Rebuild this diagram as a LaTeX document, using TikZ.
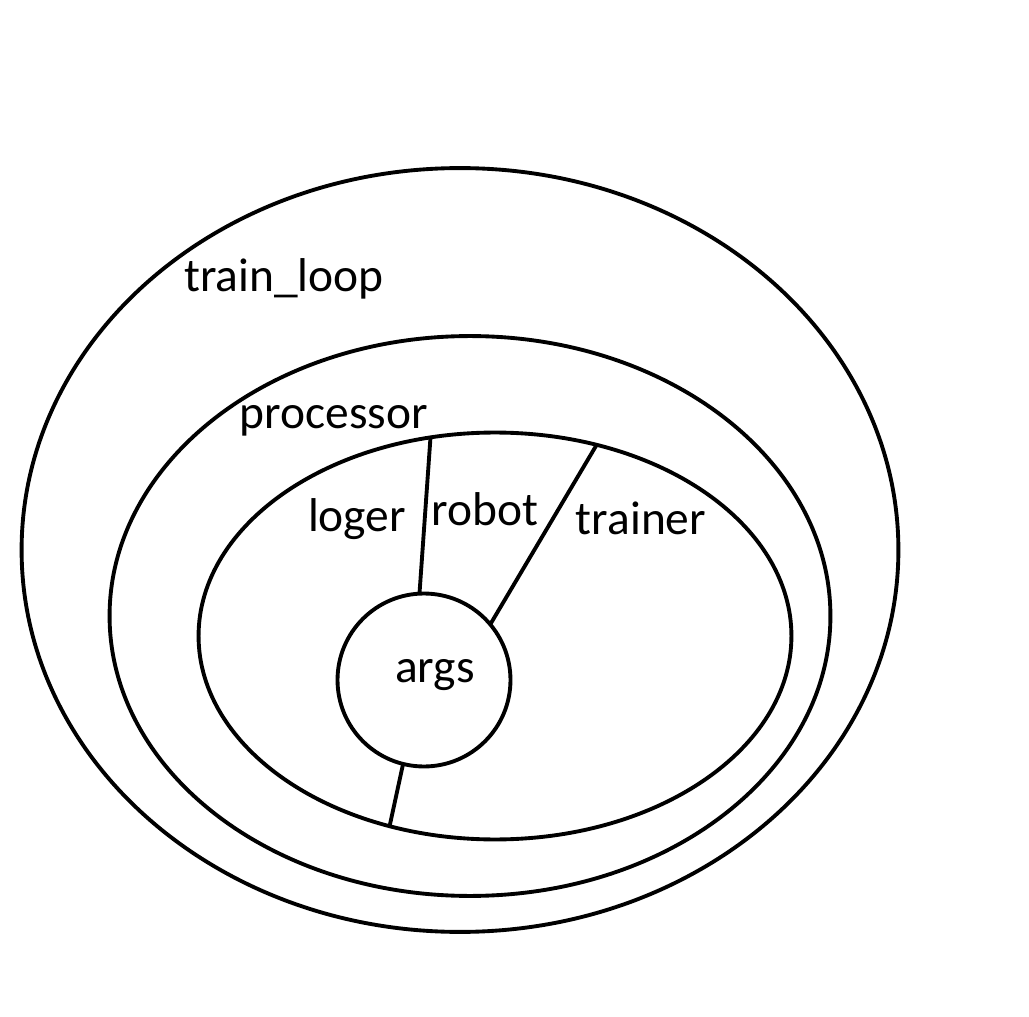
\documentclass[tikz,border=0pt]{standalone}
\usepackage{fontspec}
\setmainfont{Carlito}
\usetikzlibrary{shapes.geometric}

\begin{document}
\begin{tikzpicture}[x=0.02cm,y=-0.02cm]
	\tikzstyle{every node}=[inner sep=0pt,font=\fontsize{27}{31}\selectfont]
	\tikzstyle{ring}=[draw,ellipse,line width=2.2pt,outer sep=0pt]
	\useasboundingbox (0,0) rectangle (1029,1017);

	% nested rings
	\node (trainloop) [ring,minimum width=17.54cm,minimum height=15.28cm] at (460,550) {};
	\node (processor) [ring,minimum width=14.42cm,minimum height=11.2cm] at (470,616) {};
	\node (inner) [ring,minimum width=11.86cm,minimum height=8.14cm] at (495,636) {};
	\node (args) [draw,circle,line width=2.2pt,outer sep=0pt,minimum size=3.46cm] at (424,680) {};

	% labels
	\node (trainlooplabel) at (284,279) {train\_loop};
	\node (processorlabel) at (334,421) {processor};
	\node (logerlabel) at (357,519) {loger};
	\node (robotlabel) at (485,509) {robot};
	\node (trainerlabel) at (641,518) {trainer};
	\node (argslabel) at (435,675) {args};

	% dividers
	\draw[line width=2.2pt] (args.93) -- (inner.108);
	\draw[line width=2.2pt] (args.40) -- (inner.62.5);
	\draw[line width=2.2pt] (args.256) -- (inner.241);
\end{tikzpicture}
\end{document}
